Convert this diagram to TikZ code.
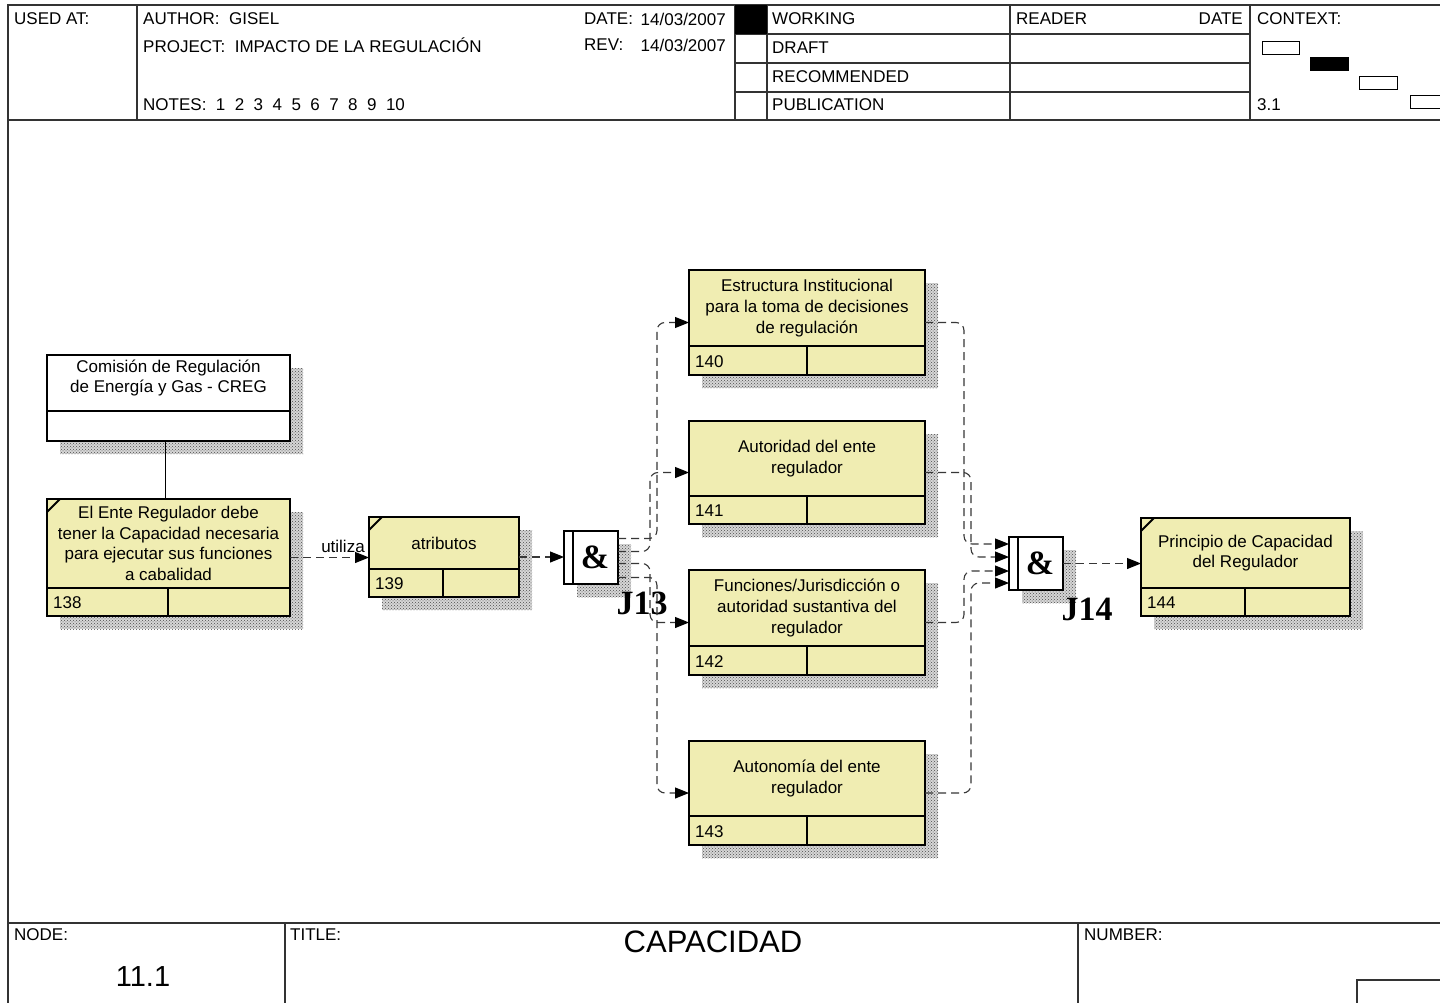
\documentclass[tikz,border=0pt]{standalone}
\usepackage{fontspec}
\setmainfont{Liberation Sans}
\newfontfamily\jfont{Liberation Serif}
\usetikzlibrary{arrows.meta,patterns,calc}

\definecolor{boxyel}{RGB}{240,237,178}
\definecolor{connc}{RGB}{55,55,55}

\tikzset{
  frame/.style={line width=1.4pt, draw=black!80},
  boxst/.style={draw=black, line width=2.8pt, fill=boxyel, inner sep=0pt, outer sep=0pt, rectangle},
  boxline/.style={draw=black, line width=2.8pt},
  shadowbase/.style={fill=black!16},
  shadowpat/.style={pattern=crosshatch dots, pattern color=black!70},
  txt/.style={font=\fontsize{17}{20.7}\selectfont, inner sep=0pt, align=center},
  hdr/.style={font=\fontsize{17}{20}\selectfont, inner sep=0pt, anchor=west},
  conn/.style={draw=connc, line width=1.1pt, dash pattern=on 8pt off 5pt, rounded corners=8pt},
  arr/.style={-{Triangle[length=14pt,width=11pt,color=black]}},
  jlabel/.style={font=\jfont\bfseries\fontsize{34}{34}\selectfont, inner sep=0pt},
}

% shadow rectangle: x0, y0, w, h (already offset)
\newcommand\shad[4]{%
  \fill[shadowbase] (#1,#2) rectangle ++(#3,#4);
  \fill[shadowpat] (#1,#2) rectangle ++(#3,#4);
}

% name, x0, y0, w, h, strip height, left cell width, text, number
\newcommand\idbox[9]{%
  \shad{#2+13}{#3+13}{#4}{#5}
  \node[boxst, minimum width=#4pt, minimum height=#5pt, anchor=north west] (#1) at (#2,#3) {};
  \draw[boxline] (#2,{#3+#5-#6}) -- ++(#4,0);
  \draw[boxline] ({#2+#7},{#3+#5-#6}) -- ++(0,#6);
  \node[txt] (#1t) at ({#2+#4/2},{#3+(#5-#6)/2}) {#8};
  \node[txt, anchor=west] (#1n) at ({#2+6},{#3+#5-#6/2+1}) {#9};
}

% name, x0, y0
\newcommand\junc[3]{%
  \shad{#2+13}{#3+13}{54}{53}
  \node[draw, line width=2.8pt, fill=white, minimum width=54pt, minimum height=53pt, anchor=north west, inner sep=0pt, outer sep=0pt] (#1) at (#2,#3) {};
  \draw[line width=2.2pt] ({#2+9},#3) -- ++(0,53);
  \node[jlabel] (#1a) at ({#2+31},{#3+26}) {\&};
}

\begin{document}
\begin{tikzpicture}[x=1pt,y=-1pt]
\useasboundingbox (0,0) rectangle (1440,1003);
\fill[white] (0,0) rectangle (1440,1003);

% ---------- frame / header ----------
\draw[frame] (1440,5) -- (8,5) -- (8,1003);
\draw[frame] (8,120) -- (1440,120);
\draw[frame] (137,5) -- (137,120);
\draw[frame] (735,5) -- (735,120);
\draw[frame] (767,5) -- (767,120);
\draw[frame] (1010,5) -- (1010,120);
\draw[frame] (1250,5) -- (1250,120);
\draw[frame] (735,34) -- (1250,34);
\draw[frame] (735,63) -- (1250,63);
\draw[frame] (735,92) -- (1250,92);
\fill[black] (735,5) rectangle (767,34);

\node[hdr] (usedat) at (14,19) {USED AT:};
\node[hdr] (author) at (143,19) {AUTHOR:\ \ GISEL};
\node[hdr] (project) at (143,45) {PROJECT:\ \ IMPACTO DE LA REGULACIÓN};
\node[hdr] (notes) at (143,105) {NOTES:\ \ 1\ \ 2\ \ 3\ \ 4\ \ 5\ \ 6\ \ 7\ \ 8\ \ 9\ \ 10};
\node[hdr] (datel) at (584,19) {DATE:};
\node[hdr, anchor=east] (datev) at (726,19) {14/03/2007};
\node[hdr] (revl) at (584,45) {REV:};
\node[hdr, anchor=east] (revv) at (726,45) {14/03/2007};
\node[hdr] (working) at (772,19) {WORKING};
\node[hdr] (draft) at (772,48) {DRAFT};
\node[hdr] (recom) at (772,77) {RECOMMENDED};
\node[hdr] (public) at (772,105) {PUBLICATION};
\node[hdr] (reader) at (1016,19) {READER};
\node[hdr, anchor=east] (rdate) at (1243,19) {DATE};
\node[hdr] (context) at (1257,19) {CONTEXT:};
\node[hdr] (ctxnum) at (1257,105) {3.1};
\draw[line width=1pt] (1262,42) rectangle (1299,55);
\fill[black] (1310,57) rectangle (1349,71);
\draw[line width=1pt] (1359,77) rectangle (1397,90);
\draw[line width=1pt] (1441,96) -- (1410,96) -- (1410,109) -- (1441,109);

% ---------- footer ----------
\draw[frame] (8,923) -- (1440,923);
\draw[frame] (285,923) -- (285,1003);
\draw[frame] (1078,923) -- (1078,1003);
\draw[frame] (1357,1004) -- (1357,980) -- (1441,980);
\node[hdr] (nodel) at (14,935) {NODE:};
\node[hdr] (titlel) at (290,935) {TITLE:};
\node[hdr] (numberl) at (1084,935) {NUMBER:};
\node[font=\fontsize{29}{30}\selectfont, inner sep=0pt] (nodenum) at (143,977) {11.1};
\node[font=\fontsize{31}{32}\selectfont, inner sep=0pt] (title) at (713,942) {CAPACIDAD};

% ---------- CREG box ----------
\shad{60}{368}{243}{86}
\node[boxst, fill=white, minimum width=243pt, minimum height=86pt, anchor=north west] (creg) at (47,355) {};
\draw[boxline] (47,411) -- ++(243,0);
\node[txt] (cregt) at (168.5,378) {Comisión de Regulación\\de Energía y Gas - CREG};

% ---------- function boxes ----------
\idbox{b138}{47}{499}{243}{117}{28}{121}{El Ente Regulador debe\\tener la Capacidad necesaria\\para ejecutar sus funciones\\a cabalidad}{138}
\idbox{b139}{369}{517}{150}{80}{28}{74}{atributos}{139}
\idbox{b140}{689}{270}{236}{105}{29}{118}{Estructura Institucional\\para la toma de decisiones\\de regulación}{140}
\idbox{b141}{689}{421}{236}{103}{28}{118}{Autoridad del ente\\regulador}{141}
\idbox{b142}{689}{570}{236}{105}{29}{118}{Funciones/Jurisdicción o\\autoridad sustantiva del\\regulador}{142}
\idbox{b143}{689}{741}{236}{104}{29}{118}{Autonomía del ente\\regulador}{143}
\idbox{b144}{1141}{518}{209}{98}{28}{104}{Principio de Capacidad\\del Regulador}{144}

\draw[line width=1.8pt] (47,512) -- (60,499);
\draw[line width=1.8pt] (369,530) -- (382,517);
\draw[line width=1.8pt] (1141,531) -- (1154,518);

% ---------- junctions ----------
\junc{j13}{564}{531}
\junc{j14}{1009}{537}
\node[jlabel] (j13l) at (642,603) {J13};
\node[jlabel] (j14l) at (1087,609) {J14};

% ---------- connectors ----------
\draw[line width=1pt] ([xshift=-3pt]creg.south) -- ([xshift=-3pt]b138.north);
\draw[conn, arr] (b138.east) -- (b138.east -| b139.west);
\node[txt, anchor=south] (utiliza) at (343,553) {utiliza};
\draw[conn, arr] (b139.east) -- (b139.east -| j13.west);

\draw[conn, arr] ([yshift=19pt]j13.east) -- ++(39,0) |- (b140.west);
\draw[conn, arr] ([yshift=6pt]j13.east) -- ++(32,0) |- (b141.west);
\draw[conn, arr] ([yshift=-6pt]j13.east) -- ++(32,0) |- (b142.west);
\draw[conn, arr] ([yshift=-20pt]j13.east) -- ++(39,0) |- (b143.west);

\draw[conn, arr] (b140.east) -- ++(39,0) |- ([yshift=19.5pt]j14.west);
\draw[conn, arr] (b141.east) -- ++(46,0) |- ([yshift=6.5pt]j14.west);
\draw[conn, arr] (b142.east) -- ++(39,0) |- ([yshift=-7.5pt]j14.west);
\draw[conn, arr] (b143.east) -- ++(46,0) |- ([yshift=-19.5pt]j14.west);

\draw[conn, arr] (j14.east) -- (j14.east -| b144.west);
\end{tikzpicture}
\end{document}
